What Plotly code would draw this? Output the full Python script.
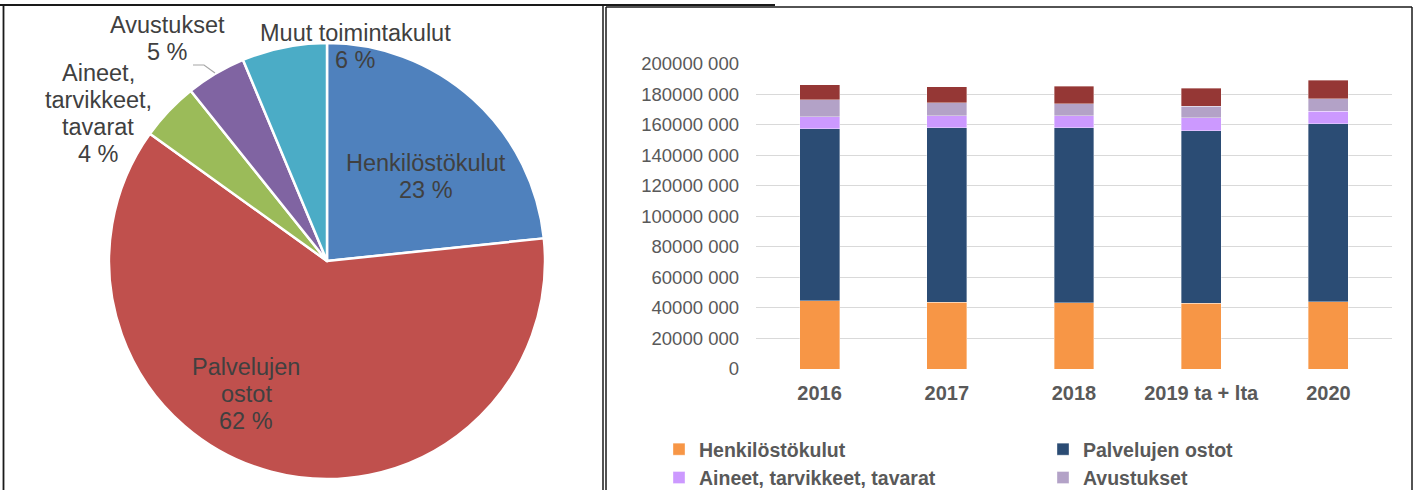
import plotly.graph_objects as go

# ---------------- data ----------------
years = ["2016", "2017", "2018", "2019 ta + lta", "2020"]
series_names = ["Henkilöstökulut", "Palvelujen ostot", "Aineet, tarvikkeet, tavarat",
                "Avustukset", "Muut toimintakulut"]
henk = [44.8e6, 43.7e6, 43.5e6, 43.1e6, 44.1e6]
palv = [112.6e6, 114.1e6, 114.3e6, 113.0e6, 116.3e6]
aineet = [7.6e6, 7.9e6, 7.9e6, 8.3e6, 8.2e6]
avust = [11.2e6, 8.7e6, 8.1e6, 7.6e6, 8.4e6]
muut = [9.8e6, 10.5e6, 11.3e6, 11.8e6, 11.9e6]
bar_colors = ["#F79646", "#2B4C74", "#CC99FF", "#B3A2C7", "#953735"]
legend_groups = ["legend", "legend2", "legend", "legend2", "legend"]

pie_values = [henk[4], palv[4], aineet[4], avust[4], muut[4]]
pie_colors = ["#4F81BD", "#C0504D", "#9BBB59", "#8064A2", "#4BACC6"]
pie_label_lines = [["Henkilöstökulut"], ["Palvelujen", "ostot"],
                   ["Aineet,", "tarvikkeet,", "tavarat"], ["Avustukset"],
                   ["Muut toimintakulut"]]
pie_pct_labels = ["23 %", "62 %", "4 %", "5 %", "6 %"]

y_ticks = list(range(0, 200_000_001, 20_000_000))
y_ticktext = ["0" if v == 0 else f"{v // 1000} {v % 1000:03d}" for v in y_ticks]

# ---------------- layout helpers ----------------
W, H = 1417, 490
def X(px): return px / W
def Y(py): return 1 - py / H

FONT = "Liberation Sans, Arial, sans-serif"

fig = go.Figure()

# pie
cx, cy, r = 327, 261, 218
fig.add_trace(go.Pie(
    values=pie_values, labels=series_names, sort=False, direction="clockwise",
    rotation=0, textinfo="none", hoverinfo="label+percent", showlegend=False,
    marker=dict(colors=pie_colors, line=dict(color="white", width=2.5)),
    domain=dict(x=[X(cx - r), X(cx + r)], y=[Y(cy + r), Y(cy - r)]),
))

# stacked bars
for name, vals, col, lg in zip(series_names, [henk, palv, aineet, avust, muut],
                               bar_colors, legend_groups):
    fig.add_trace(go.Bar(
        x=years, y=vals, name=name, marker_color=col,
        marker_line=dict(width=0.8, color="rgba(255,255,255,0.45)"),
        showlegend=(name != "Muut toimintakulut"), legend=lg,
    ))

# pie labels
label_pos = [(426, 163), (246, 367), (98, 73), (167, 25), (355, 33)]
spacing = 27
annotations = []
for lines, pct, (lx, ly) in zip(pie_label_lines, pie_pct_labels, label_pos):
    for i, t in enumerate(lines + [pct]):
        annotations.append(dict(
            x=X(lx), y=Y(ly + i * spacing), xref="paper", yref="paper",
            text=t, showarrow=False, xanchor="center", yanchor="middle",
            font=dict(family=FONT, size=23.5, color="#404040"),
        ))

shapes = [
    # leader line for Avustukset
    dict(type="path", xref="paper", yref="paper",
         path=f"M {X(193)} {Y(65)} L {X(204)} {Y(65)} L {X(215)} {Y(73)}",
         line=dict(color="#A6A6A6", width=1.2)),
    # panel borders
    dict(type="line", xref="paper", yref="paper", x0=X(0), x1=X(775), y0=Y(5), y1=Y(5),
         line=dict(color="#1a1a1a", width=2.2)),
    dict(type="line", xref="paper", yref="paper", x0=X(3.5), x1=X(3.5), y0=Y(5), y1=Y(492),
         line=dict(color="#1a1a1a", width=1.8)),
    dict(type="line", xref="paper", yref="paper", x0=X(603), x1=X(603), y0=Y(5), y1=Y(492),
         line=dict(color="#1a1a1a", width=1.5)),
    dict(type="line", xref="paper", yref="paper", x0=X(606), x1=X(606), y0=Y(7), y1=Y(492),
         line=dict(color="#1a1a1a", width=1.5)),
    dict(type="line", xref="paper", yref="paper", x0=X(606), x1=X(1412), y0=Y(7), y1=Y(7),
         line=dict(color="#1a1a1a", width=1.5)),
    dict(type="line", xref="paper", yref="paper", x0=X(1412), x1=X(1412), y0=Y(7), y1=Y(492),
         line=dict(color="#1a1a1a", width=1.5)),
]

legend_style = dict(orientation="v", xanchor="left", yanchor="top",
                    traceorder="normal", itemwidth=30, bgcolor="rgba(0,0,0,0)",
                    tracegroupgap=0, borderwidth=0,
                    font=dict(family=FONT, size=19.5, color="#595959", weight="bold"))

fig.update_layout(
    width=W, height=H, margin=dict(l=0, r=0, t=0, b=0, autoexpand=False),
    paper_bgcolor="white", plot_bgcolor="white",
    barmode="stack", bargap=0.686,
    font=dict(family=FONT, color="#595959"),
    annotations=annotations, shapes=shapes,
    xaxis=dict(domain=[X(756), X(1392)], showgrid=False, zeroline=False, showline=False,
               tickfont=dict(family=FONT, size=20, color="#595959", weight="bold"),
               ticklabelstandoff=10, fixedrange=True),
    yaxis=dict(domain=[Y(369), Y(63.5)], range=[0, 200_000_000], tickvals=y_ticks,
               ticktext=y_ticktext, showgrid=True, gridcolor="#D9D9D9", gridwidth=1.3,
               zeroline=False, showline=False,
               tickfont=dict(family=FONT, size=18.5, color="#595959"),
               ticklabelstandoff=16, fixedrange=True),
    legend=dict(x=X(659), y=Y(430), **legend_style),
    legend2=dict(x=X(1043), y=Y(430), **legend_style),
)

fig.write_html("out.html", config={"displayModeBar": False},
               post_script="document.body.style.margin='0';document.body.style.overflow='hidden';")
